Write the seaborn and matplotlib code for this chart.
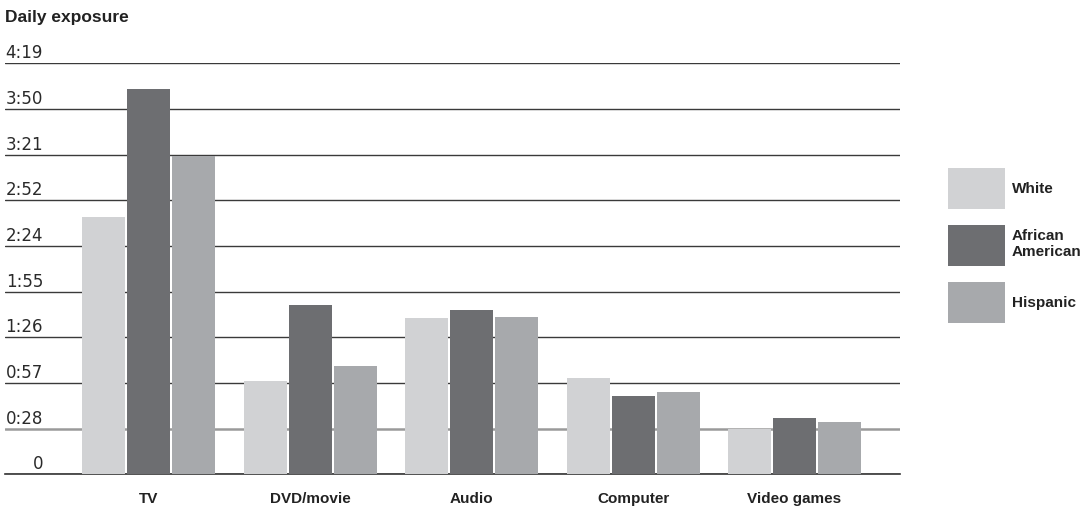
import numpy as np
import pandas as pd
import matplotlib
matplotlib.use("Agg")
import matplotlib.pyplot as plt
import matplotlib.transforms as mtransforms
import seaborn as sns

# media categories and daily minutes per group
categories = ['TV', 'DVD/movie', 'Audio', 'Computer', 'Video games']
groups = ['White', 'African American', 'Hispanic']
white = [162, 59, 98.5, 61, 28.5]
african_american = [243, 107, 103.5, 49.5, 35.5]
hispanic = [201, 68, 99, 52, 33]

# y ticks in minutes and the h:mm labels the chart prints
tick_minutes = [0, 28.8, 57.6, 86.4, 115.2, 144, 172.8, 201.6, 230.4, 259.2]
tick_labels = ['0', '0:28', '0:57', '1:26', '1:55', '2:24', '2:52', '3:21', '3:50', '4:19']

legend_labels = ['White', 'African\nAmerican', 'Hispanic']
colors = ['#d1d2d4', '#6d6e71', '#a7a9ac']

df = pd.DataFrame({
    'media': categories * 3,
    'group': [g for g in groups for _ in categories],
    'minutes': white + african_american + hispanic,
})

sns.set_style('white')
plt.rcParams['font.family'] = ['DejaVu Sans']

W, H = 1087, 508
fig = plt.figure(figsize=(W / 100, H / 100), dpi=100)
ax = fig.add_axes([5 / W, (H - 474.3) / H, 895 / W, (474.3 - 63.3) / H])

sns.barplot(data=df, x='media', y='minutes', hue='group', order=categories,
            hue_order=groups, palette=colors, width=0.836, gap=0.045,
            saturation=1, errorbar=None, linewidth=0, ax=ax, zorder=3)

ax.set_xlim(-0.889, 4.653)
ax.set_ylim(0, 259.2)
ax.set_xlabel('')
ax.set_ylabel('')

# horizontal rules behind the bars
ax.set_yticks(tick_minutes)
ax.set_yticklabels(tick_labels, fontsize=12, color='#2a2a2a', ha='right')
ax.yaxis.grid(True, color='#3a3a3a', linewidth=1.0, zorder=0)
ax.set_axisbelow(True)
ax.get_ygridlines()[1].set_color('#9a9a9a')
ax.get_ygridlines()[1].set_linewidth(1.8)
ax.tick_params(axis='y', length=0, pad=0)
offset = mtransforms.ScaledTranslation(0.38, 0.12, fig.dpi_scale_trans)
for lab in ax.get_yticklabels():
    lab.set_transform(lab.get_transform() + offset)

ax.tick_params(axis='x', length=0, pad=13)
for lab in ax.get_xticklabels():
    lab.set_fontfamily('Liberation Sans')
    lab.set_fontweight('bold')
    lab.set_fontsize(11)
    lab.set_color('#222222')

sns.despine(ax=ax, left=True, top=True, right=True)
ax.spines['bottom'].set_color('#333333')
ax.spines['bottom'].set_linewidth(1.2)

fig.text(5 / W, 1 - 22 / H, 'Daily exposure', fontsize=12.5, fontweight='bold',
         family='Liberation Sans', color='#222222', va='baseline', ha='left')

fs = 11 * 100 / 72
handles, _ = ax.get_legend_handles_labels()
leg = ax.legend(handles, legend_labels, loc='upper left',
                bbox_to_anchor=(948 / W, 1 - 168 / H), bbox_transform=fig.transFigure,
                frameon=False, borderaxespad=0, borderpad=0,
                handlelength=57 / fs, handleheight=(41 / fs - 0.245) / 0.65,
                handletextpad=0.45, labelspacing=1.05,
                prop={'family': 'Liberation Sans', 'weight': 'bold', 'size': 11})
for t in leg.get_texts():
    t.set_color('#222222')

fig.savefig('out.png', dpi=100)
